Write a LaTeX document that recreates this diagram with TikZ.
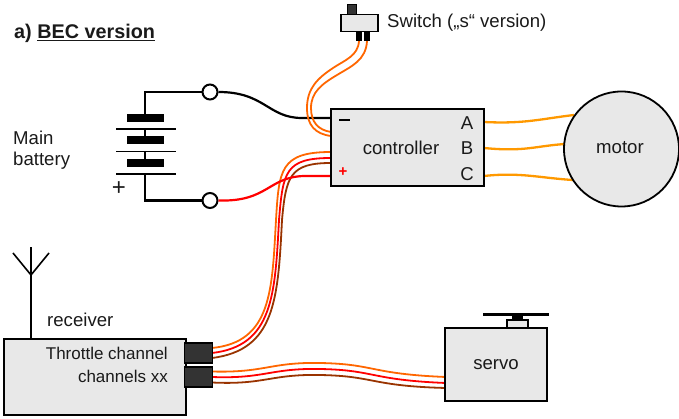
\documentclass[tikz,border=0pt]{standalone}
\usepackage{fontspec}
\setmainfont{Liberation Sans}
\definecolor{boxfill}{HTML}{E8E8E8}
\definecolor{sigorange}{HTML}{FF6600}
\definecolor{sigbrown}{HTML}{993300}
\definecolor{phase}{HTML}{FF9900}
\definecolor{plug}{HTML}{333333}
\definecolor{txt}{HTML}{1A1A1A}
\tikzset{
  box/.style={draw=black,fill=boxfill,line width=2pt,inner sep=0pt,text=txt},
  label/.style={inner sep=0pt,text=txt,font=\fontsize{18.6}{22}\selectfont},
  small/.style={inner sep=0pt,text=txt,font=\fontsize{17}{20}\selectfont},
  plugbox/.style={draw=black,fill=plug,line width=1.5pt,inner sep=0pt,minimum width=28pt,minimum height=20pt},
  term/.style={circle,draw=black,fill=white,line width=2pt,inner sep=0pt,minimum size=15pt},
  cable/.style={line width=1.8pt},
  wire/.style={line width=2.2pt},
  phasew/.style={line width=2.3pt,phase},
  plate/.style={fill=black,draw=none,inner sep=0pt,minimum width=37pt,minimum height=8pt},
  cellline/.style={line width=1.5pt},
  blackpart/.style={fill=black,draw=none,inner sep=0pt},
}
\begin{document}
\begin{tikzpicture}[x=1pt,y=-1pt]
\useasboundingbox (0,0) rectangle (679,419);
% terminals and anchors
\node[term] (tn) at (210,92) {};
\node[term] (tp) at (210,200.5) {};
\coordinate (cminus) at (331,118);
\coordinate (cplus) at (331,176);
\coordinate (sw1) at (359,41);
\coordinate (sw2) at (367,41);
\coordinate (cs1) at (331,136);
\coordinate (cs2) at (331,132);
\coordinate (co) at (331,152);
\coordinate (cr) at (331,158);
\coordinate (cb) at (331,163);
\coordinate (to) at (212,348);
\coordinate (tr) at (212,353);
\coordinate (tb) at (212,358);
\coordinate (xo) at (212,371.5);
\coordinate (xr) at (212,377);
\coordinate (xb) at (212,382.5);
\coordinate (so) at (446,377);
\coordinate (sr) at (446,383);
\coordinate (sb) at (446,388);
\coordinate (pa) at (484,122);
\coordinate (pb) at (484,148);
\coordinate (pc) at (484,176);
\coordinate (ma) at (574,115);
\coordinate (mb) at (565,144);
\coordinate (mc) at (573,180);
% battery
\coordinate (bt) at (145,92);
\coordinate (bb) at (145,200.5);
\draw[wire] (tn) -- (bt) -- (145,114);
\draw[cellline] (145,129) -- (145,138);
\draw[cellline] (145,151) -- (145,160);
\draw[wire] (145,174) -- (bb) -- (tp);
\node[plate] (p1) at (145,118) {};
\node[plate] (p2) at (145,140.5) {};
\node[plate] (p3) at (145,163) {};
\draw[cellline] (116,129) -- (176,129);
\draw[cellline] (116,151.5) -- (176,151.5);
\draw[cellline] (116,174) -- (176,174);
% wires
\draw[wire,black] (tn.east) .. controls (265,92) and (268,118) .. (302,118) -- (cminus);
\draw[cable,sigorange] (sw1) .. controls (358,56) and (345,60) .. (333,68) .. controls (318,78) and (307,88) .. (307,108) .. controls (307,125) and (315,134) .. (cs1);
\draw[cable,sigorange] (sw2) .. controls (366,60) and (352,66) .. (337,75) .. controls (322,84) and (311,92) .. (311,108) .. controls (311,122) and (318,130) .. (cs2);
\draw[cable,sigorange] (co) .. controls (280,152) and (279,170) .. (276,220) .. controls (272,290) and (272,342) .. (to);
\draw[cable,sigbrown] (cb) .. controls (290,163) and (286,176) .. (282,220) .. controls (278,300) and (275,350) .. (tb);
\draw[cable,red] (cr) .. controls (285,158) and (283,172) .. (279,220) .. controls (275,295) and (273,346) .. (tr);
\draw[wire,red] (tp.east) .. controls (268,202) and (268,177) .. (304,176) -- (cplus);
\draw[cable,sigorange] (xo) .. controls (265,373) and (270,362) .. (320,363) .. controls (375,364) and (370,374) .. (so);
\draw[cable,red] (xr) .. controls (265,379) and (270,368) .. (320,369) .. controls (375,370) and (370,380) .. (sr);
\draw[cable,sigbrown] (xb) .. controls (265,385) and (270,374) .. (320,375) .. controls (375,376) and (370,386) .. (sb);
\draw[phasew] (pa) .. controls (525,124) and (540,119) .. (ma);
\draw[phasew] (pb) .. controls (525,152) and (535,146) .. (mb);
\draw[phasew] (pc) .. controls (520,172) and (540,178) .. (mc);
% controller
\node[box,minimum width=153pt,minimum height=77pt] (ctrl) at (407.5,148) {};
\node[label] (ctxt) at (401,148) {controller};
\node[label] (la) at (467,123) {A};
\node[label] (lb) at (467,148) {B};
\node[label] (lc) at (467,174) {C};
\draw[line width=1.5pt] (339,120) -- (350,120);
\node[inner sep=0pt,text=red,font=\fontsize{15}{15}\bfseries\selectfont] (pluss) at (343,172) {+};
% switch
\node[blackpart,fill=plug,draw=black,line width=.6pt,minimum width=9pt,minimum height=10pt] (nub) at (352,9.5) {};
\node[blackpart,minimum width=6pt,minimum height=9pt] (l1) at (359,36.5) {};
\node[blackpart,minimum width=6pt,minimum height=9pt] (l2) at (367,36.5) {};
\node[box,line width=1.6pt,minimum width=37pt,minimum height=17pt] (sw) at (359.5,23) {};
\node[label,anchor=west] (swt) at (387,23) {Switch („s“ version)};
% motor
\node[circle,box,line width=1.8pt,minimum size=115pt] (motor) at (621.5,149) {};
\node[label] (mt) at (620,148) {motor};
% servo
\node[blackpart,minimum width=66pt,minimum height=3.5pt] (horn) at (516,314.5) {};
\node[blackpart,minimum width=11pt,minimum height=5pt] (hub) at (517.5,318) {};
\node[box,line width=1.5pt,minimum width=21pt,minimum height=9pt] (neck) at (517.5,324.5) {};
\node[box,minimum width=102pt,minimum height=73pt] (servo) at (496,364.5) {};
\node[label] (st) at (496,365) {servo};
% receiver
\draw[line width=1.6pt] (31,339) -- (31,247);
\draw[line width=1.6pt] (13,253) -- (31,275) -- (49,253);
\node[box,minimum width=182pt,minimum height=76pt] (rx) at (94.5,377) {};
\node[plugbox] (pl1) at (198.5,353) {};
\node[plugbox] (pl2) at (198.5,377) {};
\node[label,anchor=west] (rt) at (47,320) {receiver};
\node[small,anchor=east] (th) at (168,353) {Throttle channel};
\node[small,anchor=east] (ch) at (168,376) {channels xx};
% labels
\node[label,anchor=base west,font=\fontsize{19.8}{22}\bfseries\selectfont] (title) at (14,39) {a) \underline{BEC version}};
\node[label,anchor=west,align=left,font=\fontsize{18.6}{21.5}\selectfont] (bat) at (13,150) {Main\\battery};
\node[label,font=\fontsize{24}{24}\selectfont] (bplus) at (119,189) {+};
\end{tikzpicture}
\end{document}
